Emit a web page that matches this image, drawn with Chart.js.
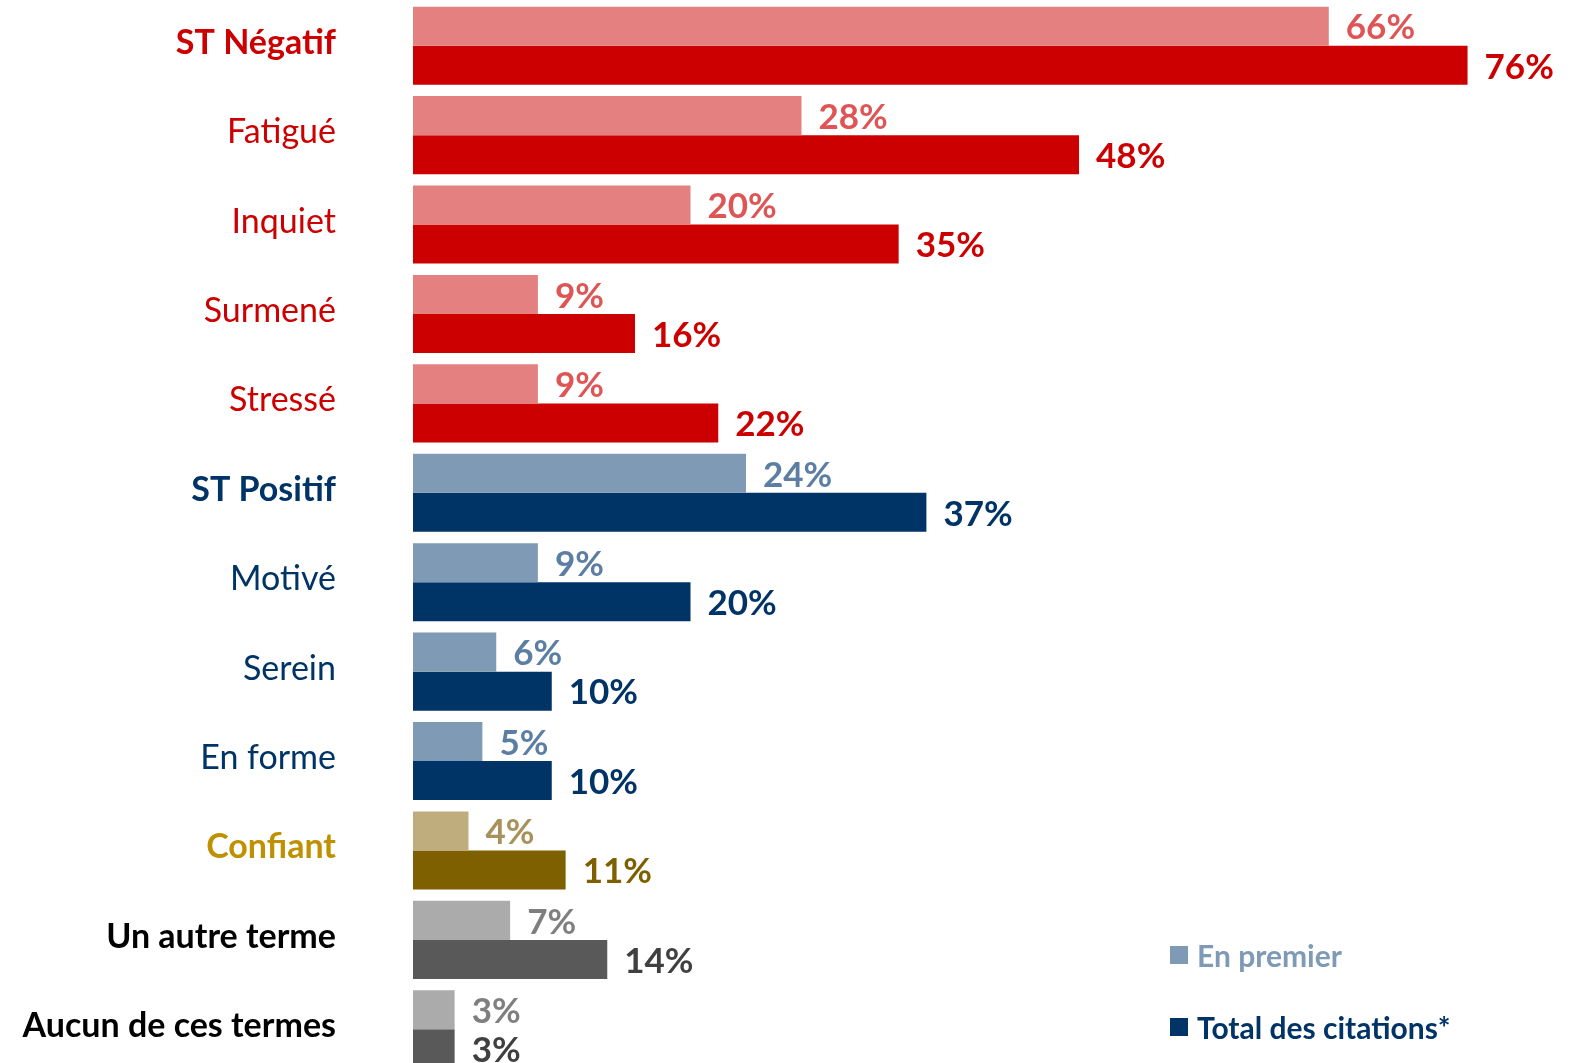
<!DOCTYPE html>
<html>
<head>
<meta charset="utf-8">
<script src="https://cdn.jsdelivr.net/npm/chart.js@4.4.1/dist/chart.umd.min.js"></script>
<style>
  html, body { margin: 0; padding: 0; background: #fff; overflow: hidden; }
  #wrap { position: relative; width: 1573px; height: 1074px; }
  #legend { position: absolute; left: 1170px; top: 936px; font-family: Lato, "Noto Sans", sans-serif; font-weight: bold; font-size: 30px; }
  .item { display: flex; align-items: center; height: 38px; }
  .item + .item { margin-top: 34px; }
  .sw { width: 18px; height: 18px; margin-right: 9px; }
</style>
</head>
<body>
<div id="wrap">
  <canvas id="c" width="1573" height="1074"></canvas>
  <div id="legend">
    <div class="item" style="color:#7f9ab5"><span class="sw" style="background:#7f9ab5"></span>En premier</div>
    <div class="item" style="color:#003366"><span class="sw" style="background:#003366"></span>Total des citations*</div>
  </div>
</div>
<script>
// Categories and values (%)
const categories = ["ST Négatif", "Fatigué", "Inquiet", "Surmené", "Stressé", "ST Positif", "Motivé", "Serein", "En forme", "Confiant", "Un autre terme", "Aucun de ces termes"];
const enPremier = [66, 28, 20, 9, 9, 24, 9, 6, 5, 4, 7, 3];
const totalCitations = [76, 48, 35, 16, 22, 37, 20, 10, 10, 11, 14, 3];

// Colour group of each category
const groups = ["neg", "neg", "neg", "neg", "neg", "pos", "pos", "pos", "pos", "conf", "other", "other"];
const boldCats = [true, false, false, false, false, true, false, false, false, true, true, true];

const palette = {
  neg:   { light: "#e58080", dark: "#cc0000", lightText: "#df5556", darkText: "#cc0000", cat: "#cc0000" },
  pos:   { light: "#7f9ab5", dark: "#003366", lightText: "#5b7ea2", darkText: "#003366", cat: "#003366" },
  conf:  { light: "#c0ad7e", dark: "#7f6000", lightText: "#a8915a", darkText: "#7f6000", cat: "#bf9000" },
  other: { light: "#ababab", dark: "#595959", lightText: "#7f7f7f", darkText: "#404040", cat: "#000000" }
};

const FONT = "Lato, 'Noto Sans', sans-serif";

// Value labels drawn just after each bar end
const valueLabels = {
  id: "valueLabels",
  afterDatasetsDraw(chart) {
    const ctx = chart.ctx;
    ctx.save();
    ctx.font = "bold 35px " + FONT;
    ctx.textBaseline = "middle";
    ctx.textAlign = "left";
    chart.data.datasets.forEach((ds, di) => {
      const meta = chart.getDatasetMeta(di);
      meta.data.forEach((bar, i) => {
        const p = palette[groups[i]];
        ctx.fillStyle = di === 0 ? p.lightText : p.darkText;
        ctx.fillText(ds.data[i] + "%", bar.x + 17, bar.y + 2);
      });
    });
    ctx.restore();
  }
};

new Chart(document.getElementById("c"), {
  type: "bar",
  data: {
    labels: categories,
    datasets: [
      {
        label: "En premier",
        data: enPremier,
        backgroundColor: groups.map(g => palette[g].light),
        categoryPercentage: 0.873,
        barPercentage: 1.0
      },
      {
        label: "Total des citations*",
        data: totalCitations,
        backgroundColor: groups.map(g => palette[g].dark),
        categoryPercentage: 0.873,
        barPercentage: 1.0
      }
    ]
  },
  options: {
    indexAxis: "y",
    responsive: false,
    animation: false,
    layout: { padding: { top: 1, right: 0, bottom: 0, left: 0 } },
    plugins: { legend: { display: false }, tooltip: { enabled: false } },
    scales: {
      x: { display: false, min: 0, max: 83.6 },
      y: {
        grid: { display: false },
        border: { display: false },
        afterFit(scale) {
          scale.width = 413;
          scale.paddingTop = 0;
          scale.paddingBottom = 0;
        },
        ticks: {
          padding: 69,
          labelOffset: -3,
          color: ctx => palette[groups[ctx.index]].cat,
          font: ctx => ({ family: FONT, size: 34, weight: boldCats[ctx.index] ? "bold" : "normal" })
        }
      }
    }
  },
  plugins: [valueLabels]
});
</script>
</body>
</html>
